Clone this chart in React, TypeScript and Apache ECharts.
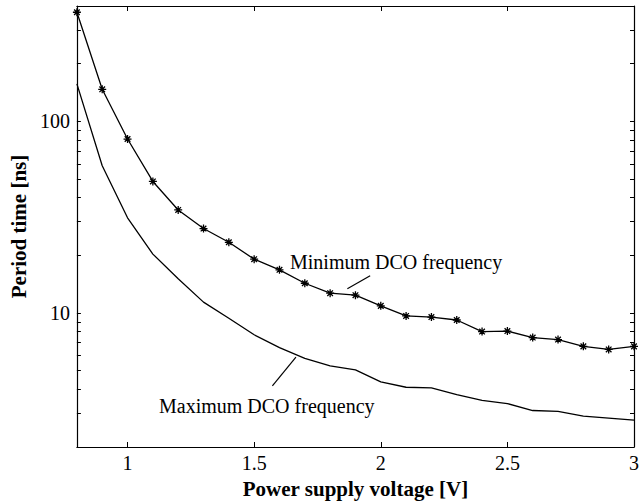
import React, { useEffect, useRef } from "react";
import * as echarts from "echarts";

const voltages = [0.8, 0.9, 1.0, 1.1, 1.2, 1.3, 1.4, 1.5, 1.6, 1.7, 1.8, 1.9, 2.0, 2.1, 2.2, 2.3, 2.4, 2.5, 2.6, 2.7, 2.8, 2.9, 3.0];
const minFreqPeriod = [371, 147, 80.9, 48.6, 34.5, 27.6, 23.4, 19.1, 16.8, 14.3, 12.7, 12.4, 10.9, 9.66, 9.53, 9.2, 8.0, 8.05, 7.45, 7.27, 6.7, 6.46, 6.7];
const maxFreqPeriod = [157, 58.7, 31.4, 20.3, 15.1, 11.4, 9.4, 7.7, 6.6, 5.8, 5.3, 5.05, 4.37, 4.1, 4.07, 3.75, 3.5, 3.37, 3.1, 3.07, 2.9, 2.83, 2.76];
const xTicks = [1, 1.5, 2, 2.5, 3];
const yLabels = [10, 100];
const yTicks = [2, 3, 4, 5, 6, 7, 8, 9, 10, 20, 30, 40, 50, 60, 70, 80, 90, 100, 200, 300, 400];
const minLeader = [[1.868, 13.4], [1.958, 15.66]];
const maxLeader = [[1.572, 4.17], [1.665, 5.88]];

const FONT = "Liberation Serif";
const asterisk = "path://M0,-5L0,5M-5,0L5,0M-3.5,-3.5L3.5,3.5M-3.5,3.5L3.5,-3.5";

export default function App() {
  const ref = useRef<HTMLDivElement>(null);
  useEffect(() => {
    if (!ref.current) return;
    const chart = echarts.init(ref.current, null, { renderer: "svg" });
    const axisLine = { show: true, lineStyle: { color: "#000", width: 1.2 } };
    const xBase = {
      type: "value",
      min: 0.8,
      max: 3,
      splitLine: { show: false },
      axisLine,
      axisTick: { inside: true, length: 5, customValues: xTicks, lineStyle: { color: "#000" } },
    };
    const yBase = {
      type: "log",
      logBase: 10,
      min: 2,
      max: 400,
      splitLine: { show: false },
      axisLine,
      axisTick: { inside: true, length: 4, customValues: yTicks, lineStyle: { color: "#000" } },
    };
    chart.setOption({
      animation: false,
      backgroundColor: "#fff",
      textStyle: { fontFamily: FONT, color: "#000" },
      grid: { left: 70, right: 6, top: 6, bottom: 52, containLabel: false },
      xAxis: [
        {
          ...xBase,
          position: "bottom",
          name: "Power supply voltage [V]",
          nameLocation: "middle",
          nameGap: 31,
          nameTextStyle: { fontFamily: FONT, fontSize: 21, fontWeight: "bold", color: "#000" },
          axisLabel: { customValues: xTicks, fontFamily: FONT, fontSize: 20, color: "#000", margin: 6 },
        },
        { ...xBase, position: "top", axisLabel: { show: false } },
      ],
      yAxis: [
        {
          ...yBase,
          position: "left",
          name: "Period time [ns]",
          nameLocation: "middle",
          nameGap: 44,
          nameTextStyle: { fontFamily: FONT, fontSize: 21, fontWeight: "bold", color: "#000" },
          axisLabel: { customValues: yLabels, fontFamily: FONT, fontSize: 20, color: "#000", margin: 7 },
        },
        { ...yBase, position: "right", axisLabel: { show: false } },
      ],
      series: [
        {
          type: "line",
          name: "Minimum DCO frequency",
          data: voltages.map((v, i) => [v, minFreqPeriod[i]]),
          symbol: asterisk,
          symbolSize: 8,
          showAllSymbol: true,
          itemStyle: { color: "#000", borderColor: "#000", borderWidth: 1.3 },
          lineStyle: { color: "#000", width: 1.3 },
          markLine: {
            silent: true,
            symbol: "none",
            label: { show: false },
            lineStyle: { color: "#000", width: 1.2, type: "solid" },
            data: [[{ coord: minLeader[0] }, { coord: minLeader[1] }]],
          },
        },
        {
          type: "line",
          name: "Maximum DCO frequency",
          data: voltages.map((v, i) => [v, maxFreqPeriod[i]]),
          symbol: "none",
          lineStyle: { color: "#000", width: 1.3 },
          markLine: {
            silent: true,
            symbol: "none",
            label: { show: false },
            lineStyle: { color: "#000", width: 1.2, type: "solid" },
            data: [[{ coord: maxLeader[0] }, { coord: maxLeader[1] }]],
          },
        },
      ],
      graphic: [
        { type: "text", left: 290, top: 252, style: { text: "Minimum DCO frequency", fontFamily: FONT, fontSize: 20, fill: "#000" } },
        { type: "text", left: 159, top: 396, style: { text: "Maximum DCO frequency", fontFamily: FONT, fontSize: 20, fill: "#000" } },
      ],
    });
    return () => chart.dispose();
  }, []);
  return <div ref={ref} style={{ width: 642, height: 504, position: "absolute", left: 0, top: 0 }} />;
}
